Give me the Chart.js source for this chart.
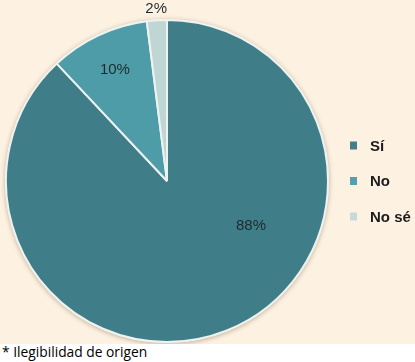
<!DOCTYPE html>
<html>
<head>
<meta charset="utf-8">
<script src="https://cdn.jsdelivr.net/npm/chart.js@4"></script>
<style>
  html, body { margin: 0; padding: 0; background: #ffffff; }
  #wrap { position: relative; width: 415px; height: 344px; background: #fdf2e2; overflow: hidden; }
  #note { font-family: "Open Sans", "Liberation Sans", sans-serif; font-size: 13.8px; color: #000; margin: -1px 0 0 2px; line-height: 18px; white-space: nowrap; }
</style>
</head>
<body>
<div id="wrap"><canvas id="c" width="415" height="344"></canvas></div>
<div id="note">* Ilegibilidad de origen</div>
<script>
const categories = ["Sí", "No", "No sé"];
const values = [88, 10, 2];
const valueLabels = ["88%", "10%", "2%"];
const colors = ["#3f7e88", "#4d9ca8", "#c0d6d5"];
const legendColors = ["#44808b", "#56a0ad", "#c6dada"];
// label placement: fraction along the slice angle and fraction of the radius
const labelAngleFrac = [0.372, 0.5, 0.5];
const labelRadiusFrac = [0.59, 0.76, 1.07];

const labelPlugin = {
  id: 'sliceLabels',
  afterDatasetsDraw(chart) {
    const ctx = chart.ctx;
    const meta = chart.getDatasetMeta(0);
    ctx.save();
    ctx.font = '15px "Liberation Sans", Arial, sans-serif';
    ctx.fillStyle = '#1f2a2c';
    ctx.textAlign = 'center';
    ctx.textBaseline = 'middle';
    meta.data.forEach((arc, i) => {
      const p = arc.getProps(['x', 'y', 'startAngle', 'endAngle', 'outerRadius'], true);
      const a = p.startAngle + (p.endAngle - p.startAngle) * labelAngleFrac[i];
      const r = p.outerRadius * labelRadiusFrac[i];
      ctx.fillText(valueLabels[i], p.x + Math.cos(a) * r, p.y + Math.sin(a) * r);
    });
    ctx.restore();
  }
};

const legendPlugin = {
  id: 'sideLegend',
  afterDraw(chart) {
    const ctx = chart.ctx;
    const ca = chart.chartArea;
    const x0 = ca.right + 21;
    const yc = (ca.top + ca.bottom) / 2;
    const step = 35.5;
    ctx.save();
    ctx.font = 'bold 15px "Liberation Sans", Arial, sans-serif';
    ctx.textBaseline = 'middle';
    ctx.textAlign = 'left';
    chart.data.labels.forEach((lab, i) => {
      const y = yc + (i - 1) * step;
      ctx.fillStyle = legendColors[i];
      ctx.fillRect(x0, y - 4, 7, 8);
      ctx.fillStyle = '#1c1c1c';
      ctx.fillText(lab, x0 + 20, y + 1);
    });
    ctx.restore();
  }
};

const shadowPlugin = {
  id: 'pieShadow',
  beforeDatasetsDraw(chart) {
    const meta = chart.getDatasetMeta(0);
    if (!meta.data.length) return;
    const p = meta.data[0].getProps(['x', 'y', 'outerRadius'], true);
    const ctx = chart.ctx;
    ctx.save();
    ctx.shadowColor = 'rgba(120,90,60,0.45)';
    ctx.shadowBlur = 5;
    ctx.shadowOffsetY = 1;
    ctx.beginPath();
    ctx.arc(p.x, p.y, p.outerRadius + 1, 0, Math.PI * 2);
    ctx.fillStyle = '#f4efe8';
    ctx.fill();
    ctx.restore();
  }
};

new Chart(document.getElementById('c'), {
  type: 'pie',
  data: {
    labels: categories,
    datasets: [{
      data: values,
      backgroundColor: colors,
      borderColor: '#eef2f0',
      borderWidth: 2
    }]
  },
  options: {
    responsive: false,
    animation: false,
    layout: { padding: { left: 5, right: 86, top: 19, bottom: 1 } },
    plugins: {
      legend: { display: false },
      tooltip: { enabled: false }
    }
  },
  plugins: [shadowPlugin, labelPlugin, legendPlugin]
});
</script>
</body>
</html>
